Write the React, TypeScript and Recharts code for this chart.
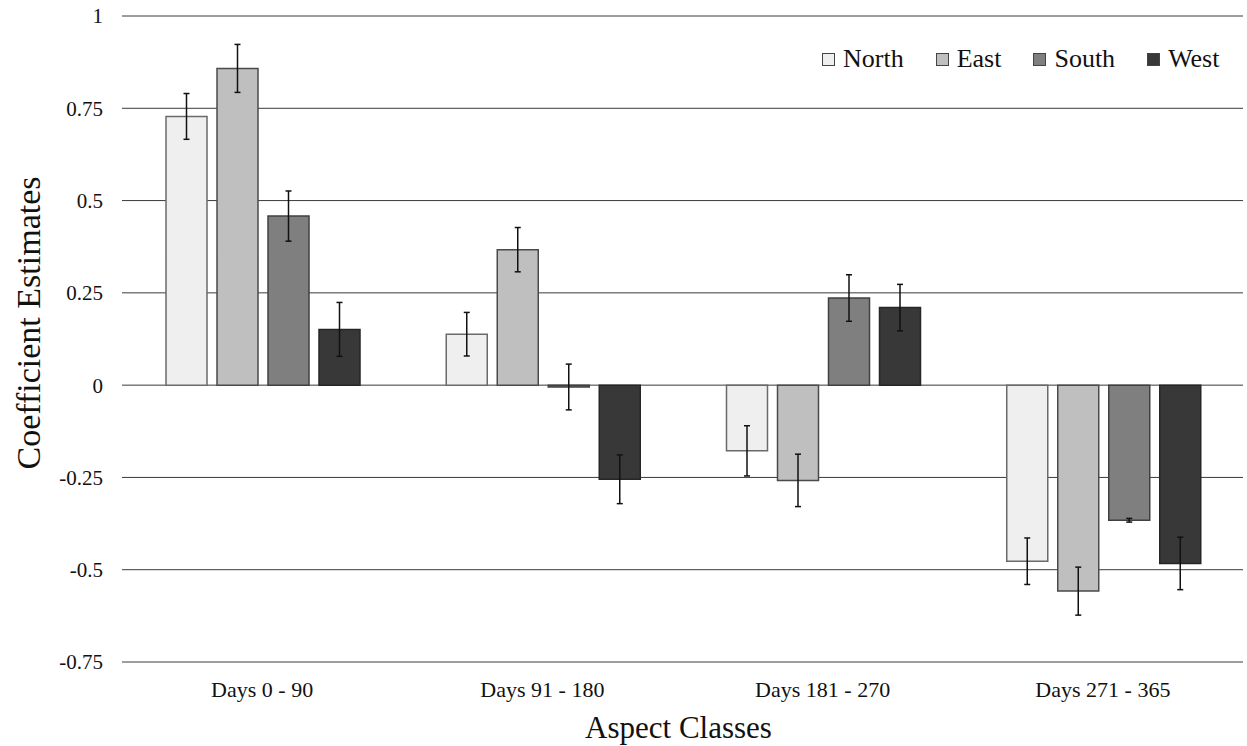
import React from 'react';
import { BarChart, Bar, XAxis, YAxis, CartesianGrid, ErrorBar, Legend, Label } from 'recharts';

const categories = ['Days 0 - 90', 'Days 91 - 180', 'Days 181 - 270', 'Days 271 - 365'];
const seriesNames = ['North', 'East', 'South', 'West'];
const seriesKeys = ['north', 'east', 'south', 'west'];

const northValues = [0.728, 0.138, -0.178, -0.477];
const northErrors = [0.062, 0.059, 0.068, 0.063];
const eastValues = [0.858, 0.367, -0.258, -0.558];
const eastErrors = [0.065, 0.06, 0.071, 0.065];
const southValues = [0.458, -0.005, 0.236, -0.366];
const southErrors = [0.068, 0.062, 0.063, 0.005];
const westValues = [0.151, -0.255, 0.21, -0.483];
const westErrors = [0.073, 0.066, 0.063, 0.071];

const yTicks = [-0.75, -0.5, -0.25, 0, 0.25, 0.5, 0.75, 1];

const seriesFills = ['#efefef', '#bfbfbf', '#7f7f7f', '#383838'];
const seriesStrokes = ['#6a6a6a', '#4a4a4a', '#404040', '#262626'];

const FONT = "'Liberation Serif', Tinos, 'Times New Roman', Times, 'Nimbus Roman', 'DejaVu Serif', serif";

const data = categories.map((category, i) => ({
  category,
  north: northValues[i],
  northErr: northErrors[i],
  east: eastValues[i],
  eastErr: eastErrors[i],
  south: southValues[i],
  southErr: southErrors[i],
  west: westValues[i],
  westErr: westErrors[i],
}));

const renderLegend = (props: any) => {
  const payload = [...(props.payload || [])].sort(
    (a: any, b: any) => seriesKeys.indexOf(a.dataKey) - seriesKeys.indexOf(b.dataKey)
  );
  return (
    <div style={{ display: 'flex', alignItems: 'center', fontFamily: FONT, fontSize: 26, lineHeight: '26px', color: '#111', whiteSpace: 'nowrap' }}>
      {payload.map((entry: any, i: number) => {
        const idx = seriesKeys.indexOf(entry.dataKey);
        return (
          <div key={i} style={{ display: 'flex', alignItems: 'center', marginRight: i < payload.length - 1 ? 32 : 0 }}>
            <span
              style={{
                display: 'inline-block',
                width: 13,
                height: 13,
                boxSizing: 'border-box',
                background: seriesFills[idx],
                border: '1px solid #444',
                marginRight: 8,
              }}
            />
            <span>{entry.value}</span>
          </div>
        );
      })}
    </div>
  );
};

const YTitle = (props: any) => {
  const vb = props.viewBox || { x: 0, y: 0, width: 0, height: 0 };
  const cx = vb.x + 40;
  const cy = vb.y + vb.height / 2 - 16;
  return (
    <text
      x={cx}
      y={cy}
      transform={`rotate(-90, ${cx}, ${cy})`}
      textAnchor="middle"
      fontSize={34}
      fontFamily={FONT}
      fill="#111"
    >
      Coefficient Estimates
    </text>
  );
};

export default function App() {
  return (
    <div style={{ position: 'absolute', left: 0, top: 0, background: '#fff', fontFamily: FONT }}>
      <BarChart
        width={1247}
        height={746}
        data={data}
        margin={{ top: 16, right: 4, bottom: 0, left: 0 }}
        barCategoryGap={44}
        barGap={10}
        style={{ fontFamily: FONT }}
      >
        <CartesianGrid vertical={false} stroke="#3a3a3a" strokeWidth={1} />
        <XAxis
          dataKey="category"
          height={84}
          axisLine={false}
          tickLine={false}
          tickSize={0}
          tickMargin={19}
          tick={{ fontSize: 22, fontFamily: FONT, fill: '#111' }}
        >
          <Label value="Aspect Classes" position="insideBottom" offset={8} fontSize={31} fontFamily={FONT} fill="#111" dx={-4} />
        </XAxis>
        <YAxis
          width={122}
          domain={[-0.75, 1]}
          ticks={yTicks}
          interval={0}
          axisLine={false}
          tickLine={false}
          tickSize={0}
          tickMargin={19}
          allowDataOverflow
          tick={{ fontSize: 21, fontFamily: FONT, fill: '#111' }}
        >
          <Label content={<YTitle />} />
        </YAxis>
        <Legend
          layout="horizontal"
          verticalAlign="middle"
          align="center"
          itemSorter={null as any}
          content={renderLegend}
          wrapperStyle={{ left: 822, top: 46, width: 'auto' }}
        />
        {seriesKeys.map((key, i) => (
          <Bar
            key={key}
            dataKey={key}
            name={seriesNames[i]}
            fill={seriesFills[i]}
            stroke={seriesStrokes[i]}
            strokeWidth={1.5}
            isAnimationActive={false}
          >
            <ErrorBar dataKey={`${key}Err`} width={3} stroke="#111" strokeWidth={1.5} direction="y" />
          </Bar>
        ))}
      </BarChart>
    </div>
  );
}
